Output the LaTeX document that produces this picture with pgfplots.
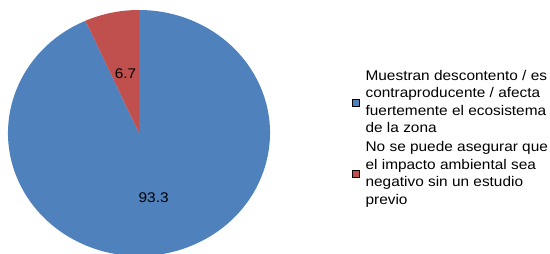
\documentclass[border=0pt]{standalone}
\usepackage{pgfplots}
\pgfplotsset{compat=1.18}
\usepackage{fontspec}
\setmainfont{Liberation Sans}[FakeStretch=1.1]
\definecolor{cblue}{HTML}{4F81BD}
\definecolor{cred}{HTML}{C0504D}
\begin{document}
\begin{tikzpicture}[x=1pt,y=1pt]
\useasboundingbox (0,0) rectangle (550,254);
\begin{axis}[
  at={(139pt,121pt)}, anchor=center,
  scale only axis, width=262pt, height=246pt,
  xmin=-1, xmax=1, ymin=-1, ymax=1,
  hide axis, clip=false,
  legend image code/.code={\fill[#1] (0pt,-3.5pt) rectangle (7pt,3.5pt);},
  legend style={at={(1.3130,0.4797)}, anchor=west, draw=none, fill=none,
    inner sep=0pt, column sep=6pt, row sep=7.3pt,
    nodes={inner sep=0pt},
    cells={anchor=west, align=left},
    font=\fontsize{14}{17.5}\selectfont},
]
% values (percent)
\def\vA{93.3}
\def\vB{6.7}
\pgfmathsetmacro{\aEnd}{90+\vB*3.6}
\pgfmathsetmacro{\mB}{90+\vB*1.8}
\pgfmathsetmacro{\mA}{\aEnd+\vA*1.8}
\addlegendimage{fill=cblue}
\addlegendentry{Muestran descontento / es\\contraproducente / afecta\\fuertemente el ecosistema\\de la zona}
\addlegendimage{fill=cred}
\addlegendentry{No se puede asegurar que\\el impacto ambiental sea\\negativo sin un estudio\\previo}
\fill[cblue] (axis cs:0,0) -- (axis cs:{cos(\aEnd)},{sin(\aEnd)}) arc[start angle=\aEnd, end angle=450, x radius=131pt, y radius=123pt] -- cycle;
\fill[cred] (axis cs:0,0) -- (axis cs:0,1) arc[start angle=90, end angle=\aEnd, x radius=131pt, y radius=123pt] -- cycle;
\node[font=\fontsize{14}{17}\selectfont] at (axis cs:{0.49*cos(\mB)},{0.49*sin(\mB)}) {6.7};
\node[font=\fontsize{14}{17}\selectfont] at (axis cs:{0.535*cos(\mA)},{0.535*sin(\mA)}) {93.3};
\end{axis}
\end{tikzpicture}
\end{document}
